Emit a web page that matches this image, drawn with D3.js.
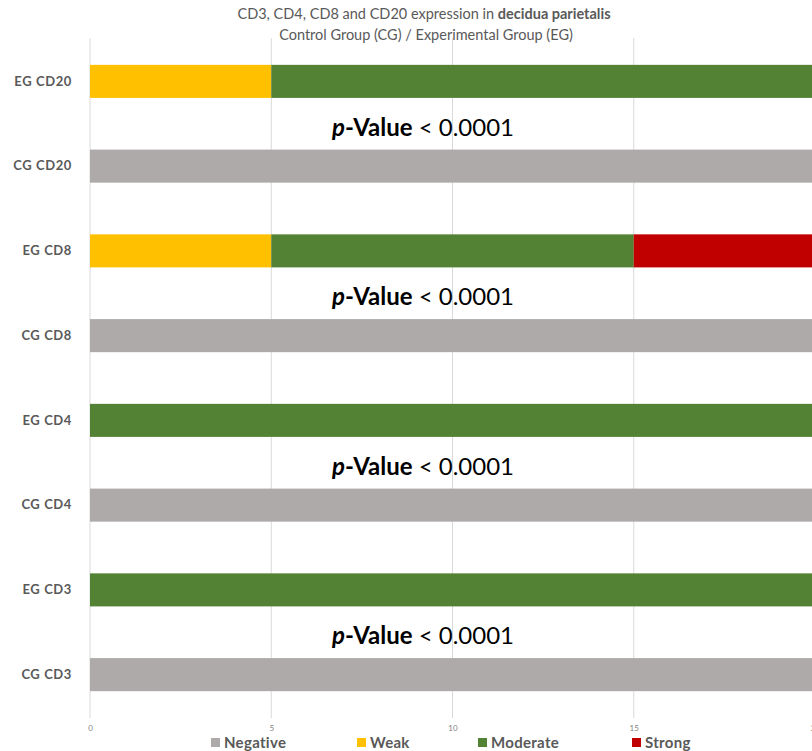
<!DOCTYPE html>
<html><head><meta charset="utf-8">
<script src="https://cdn.jsdelivr.net/npm/d3@7"></script>
<style>body{margin:0;background:#fff;} svg{display:block;}</style>
</head><body>
<svg id="c" width="812" height="751"></svg>
<script>
const categories = ["EG CD20","CG CD20","EG CD8","CG CD8","EG CD4","CG CD4","EG CD3","CG CD3"];
const series = ["Negative","Weak","Moderate","Strong"];
const negative = [0,20,0,20,0,20,0,20];
const weak     = [5,0,5,0,0,0,0,0];
const moderate = [15,0,10,0,20,0,20,0];
const strong   = [0,0,5,0,0,0,0,0];
const colors = ["#AEAAAA","#FFC000","#548235","#C00000"];
const xTicks = [0,5,10,15,20];
const pLabels = ["< 0.0001","< 0.0001","< 0.0001","< 0.0001"];
const pPairs = [[0,1],[2,3],[4,5],[6,7]];

const rows = categories.map((c,i)=>({cat:c, Negative:negative[i], Weak:weak[i], Moderate:moderate[i], Strong:strong[i]}));
const svg = d3.select("#c");
const font = "Lato, 'Open Sans', sans-serif";
const x = d3.scaleLinear().domain([0,20]).range([90,815]);
const y = d3.scaleBand().domain(categories).range([39,717]).paddingInner(0.61).paddingOuter(0.305);

// gridlines
svg.append("g").selectAll("line").data(xTicks).join("line")
  .attr("x1",d=>x(d)).attr("x2",d=>x(d)).attr("y1",38).attr("y2",718)
  .attr("stroke","#D9D9D9").attr("stroke-width",1);

// stacked bars
const stack = d3.stack().keys(series)(rows);
svg.append("g").selectAll("g").data(stack).join("g")
  .attr("fill",(d,i)=>colors[i])
  .selectAll("rect").data(d=>d).join("rect")
  .attr("x",d=>x(d[0])).attr("width",d=>x(d[1])-x(d[0]))
  .attr("y",d=>y(d.data.cat)).attr("height",y.bandwidth());

// x tick labels
const xa = d3.axisBottom(x).tickValues(xTicks).tickSize(0).tickPadding(0);
const gx = svg.append("g").attr("transform","translate(0,725)").call(xa);
gx.select(".domain").remove();
gx.selectAll("text").attr("fill","#7f7f7f").style("font-family",font).style("font-size","8px");

// y labels
const ya = d3.axisLeft(y).tickSize(0).tickPadding(0);
const gy = svg.append("g").attr("transform","translate(72,0)").call(ya);
gy.select(".domain").remove();
gy.selectAll("text").attr("fill","#595959").style("font-family",font).style("font-size","13px").style("font-weight","bold").style("letter-spacing","0.6px");

// p-values
const pt = svg.append("g").selectAll("text").data(pPairs).join("text")
  .attr("x",423).attr("y",d=>(y(categories[d[0]])+y.bandwidth()+y(categories[d[1]]))/2+2)
  .attr("text-anchor","middle").attr("dominant-baseline","central")
  .style("font-family",font).style("font-size","24px").attr("fill","#000");
pt.append("tspan").text("p").style("font-style","italic").style("font-weight","bold");
pt.append("tspan").text("-Value").style("font-weight","bold");
pt.append("tspan").text((d,i)=>" "+pLabels[i]);

// title
const t1 = svg.append("text").attr("x",424).attr("y",19).attr("text-anchor","middle")
  .style("font-family",font).style("font-size","14.5px").attr("fill","#595959");
t1.append("tspan").text("CD3, CD4, CD8 and CD20 expression in ");
t1.append("tspan").text("decidua parietalis").style("font-weight","bold");
svg.append("text").attr("x",426).attr("y",40).attr("text-anchor","middle")
  .style("font-family",font).style("font-size","14.5px").attr("fill","#595959")
  .text("Control Group (CG) / Experimental Group (EG)");

// legend
const legX = [211,357,478,632];
const lg = svg.append("g").selectAll("g").data(series).join("g")
  .attr("transform",(d,i)=>`translate(${legX[i]},738)`);
lg.append("rect").attr("width",9).attr("height",9).attr("fill",(d,i)=>colors[i]);
lg.append("text").attr("x",13).attr("y",3.5).attr("dominant-baseline","central")
  .style("font-family",font).style("font-size","15px").style("font-weight","bold")
  .style("letter-spacing","0.3px")
  .attr("fill","#595959").text(d=>d);
</script>
</body></html>
